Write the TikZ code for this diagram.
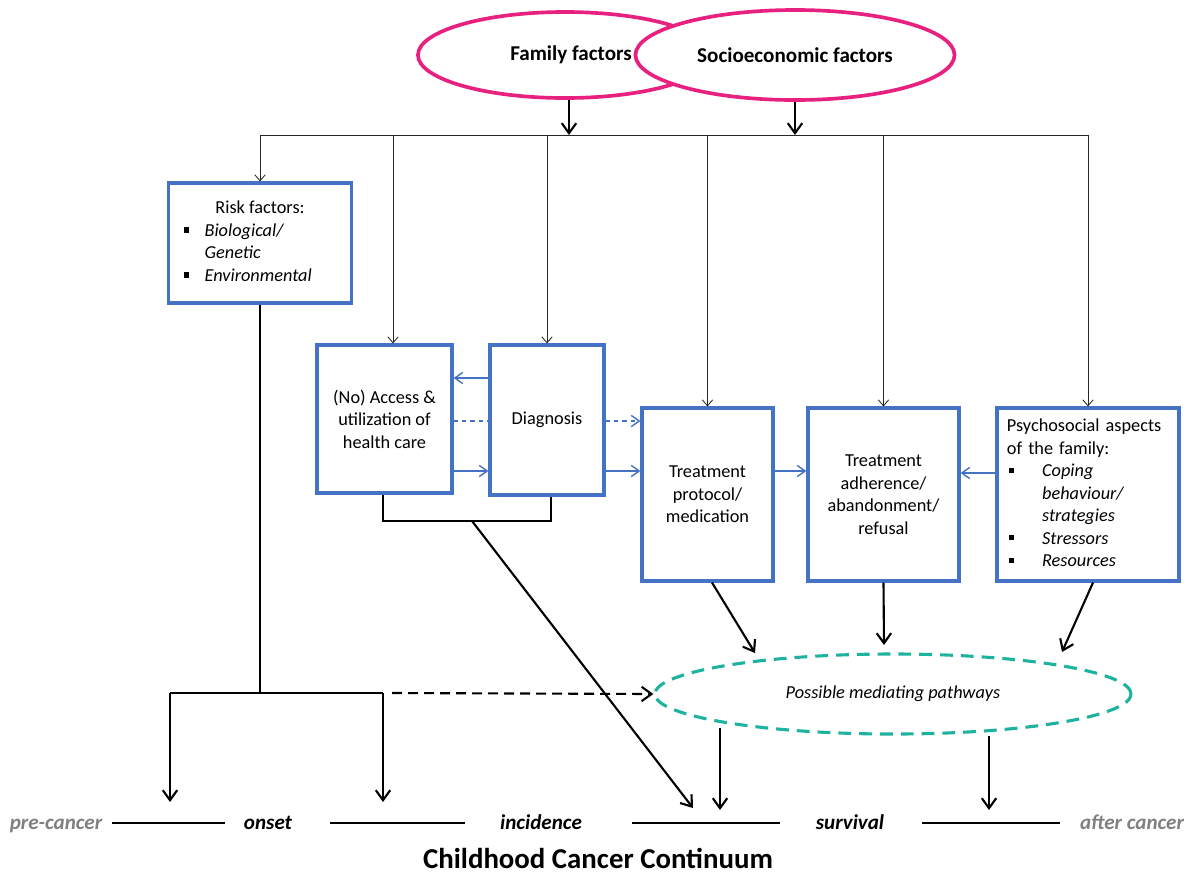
\documentclass[tikz,border=0pt]{standalone}
\usepackage{fontspec}
\setmainfont{Carlito}
\usetikzlibrary{arrows.meta, positioning, shapes.geometric, calc}
\definecolor{cblue}{HTML}{4472C4}
\definecolor{cpink}{HTML}{E8207F}
\definecolor{cteal}{HTML}{1DB39E}
\definecolor{cgrey}{HTML}{808080}
\newcommand{\sqb}{\rule[0.2em]{0.28em}{0.28em}}
\tikzset{
  every picture/.style={font=\fontsize{13}{16}\selectfont},
  box/.style={draw=cblue, line width=2.2pt, fill=white, align=center, inner sep=3pt},
  factor/.style={ellipse, draw=cpink, line width=2.6pt, fill=white, font=\fontsize{15}{18}\selectfont\bfseries},
  feed/.style={-{Straight Barb[length=1.5mm, width=2.6mm]}, draw=black!85, line width=0.6pt},
  link/.style={-{Straight Barb[length=2mm, width=2.8mm]}, draw=cblue, line width=1pt},
  bigarrow/.style={-{Straight Barb[length=2.5mm, width=3.6mm]}, line width=1.5pt},
  stage/.style={anchor=base, font=\fontsize{15}{18}\selectfont\bfseries\itshape},
  stageline/.style={line width=1.6pt},
}

\begin{document}
\begin{tikzpicture}[x=0.025cm, y=-0.025cm]
  \useasboundingbox (0,0) rectangle (1196,877);
  % top factors
  \node[factor, minimum width=7.35cm, minimum height=2.15cm] (family) at (565,55) {\hspace*{0.3cm}Family factors};
  \node[factor, minimum width=7.975cm, minimum height=2.25cm] (socio) at (795,55) {Socioeconomic factors};
  \coordinate (busL) at (260,135);
  \coordinate (busR) at (1088,135);
  \draw[bigarrow] (family.south -| 569,0) -- (busL -| 569,0);
  \draw[bigarrow] (socio.south) -- (socio.south |- busL);
  \draw[line width=0.6pt, black!85] (busL) -- (busR);

  % boxes
  \node[box, minimum width=4.575cm, minimum height=3cm] (risk) at (260,243)
    {\begin{tabular}{@{}l@{\hspace{0.38cm}}l@{\hspace{0.6cm}}}
      \multicolumn{2}{@{}c@{}}{Risk factors:}\\
      \sqb & \textit{Biological/}\\
           & \textit{Genetic}\\
      \sqb & \textit{Environmental}
    \end{tabular}};
  \node[box, minimum width=3.375cm, minimum height=3.7cm] (access) at (384.5,419)
    {(No) Access \&\\utilization of\\health care};
  \node[box, minimum width=2.85cm, minimum height=3.75cm] (diag) at (547,420) {Diagnosis};
  \node[box, minimum width=3.275cm, minimum height=4.325cm] (treat) at (707.5,494.5)
    {Treatment\\protocol/\\medication};
  \node[box, minimum width=3.775cm, minimum height=4.325cm] (adh) at (883.5,494.5)
    {Treatment\\adherence/\\abandonment/\\refusal};
  \node[box, minimum width=4.55cm, minimum height=4.325cm, text width=4.05cm, align=left] (psy) at (1088,494.5)
    {\begin{tabular}{@{}l@{\hspace{0.7cm}}l@{}}
      \multicolumn{2}{@{}l}{Psychosocial aspects}\\
      \multicolumn{2}{@{}l}{of the family:}\\
      \hspace*{0.05cm}\sqb & \textit{Coping}\\
           & \textit{behaviour/}\\
           & \textit{strategies}\\
      \hspace*{0.05cm}\sqb & \textit{Stressors}\\
      \hspace*{0.05cm}\sqb & \textit{Resources}
    \end{tabular}};

  % drops from the bus
  \draw[feed] (busL) -- (risk.north);
  \draw[feed] (busL -| 393,0) -- (access.north -| 393,0);
  \draw[feed] (busL -| diag.north) -- (diag.north);
  \draw[feed] (busL -| treat.north) -- (treat.north);
  \draw[feed] (busL -| adh.north) -- (adh.north);
  \draw[feed] (busR) -- (psy.north);

  % links between boxes
  \draw[link] (diag.west |- 0,378) -- (access.east |- 0,378);
  \draw[cblue, line width=1pt, dashed] (access.east |- 0,421) -- (diag.west |- 0,421);
  \draw[link] (access.east |- 0,471) -- (diag.west |- 0,471);
  \draw[link, dashed] (diag.east |- 0,421) -- (treat.west |- 0,421);
  \draw[link] (diag.east |- 0,471) -- (treat.west |- 0,471);
  \draw[link] (treat.east |- 0,471) -- (adh.west |- 0,471);
  \draw[link] (psy.west |- 0,473) -- (adh.east |- 0,473);

  % mediating pathways
  \node[ellipse, draw=cteal, line width=2.2pt, dash pattern=on 0.32cm off 0.2cm,
    minimum width=11.9cm, minimum height=2cm, font=\fontsize{13}{16}\selectfont\itshape] (med) at (893,694)
    {Possible mediating pathways};
  \coordinate (medA) at (755,653);
  \coordinate (medB) at (884,645);
  \coordinate (medC) at (1062,652);
  \draw[bigarrow] (treat.south -| 712,0) -- (medA);
  \draw[bigarrow] (adh.south) -- (medB);
  \draw[bigarrow] (psy.south -| 1093,0) -- (medC);

  % risk split and bracket
  \coordinate (split) at (260,693);
  \coordinate (preEnd) at (170,802);
  \coordinate (onsetEnd) at (383,802);
  \draw[line width=1.2pt] (risk.south) -- (split);
  \draw[line width=1.2pt] (preEnd |- split) -- (onsetEnd |- split);
  \draw[bigarrow] (preEnd |- split) -- (preEnd);
  \draw[bigarrow] (onsetEnd |- split) -- (onsetEnd);
  \draw[bigarrow, dash pattern=on 0.25cm off 0.15cm] (392,693) -- (med.west);
  \coordinate (brk) at (472,521);
  \coordinate (incEnd) at (693,808);
  \draw[line width=0.8pt] (access.south -| 383,0) |- (brk) -| (diag.south -| 551,0);
  \draw[bigarrow] (brk) -- (incEnd);
  \coordinate (survA) at (720,728);
  \coordinate (survB) at (989,736);
  \draw[bigarrow] (survA) -- (720,810);
  \draw[bigarrow] (survB) -- (989,810);

  % continuum
  \node[stage, text=cgrey] (pre) at (56,829) {pre-cancer};
  \node[stage] (onset) at (268,829) {onset};
  \node[stage] (inc) at (541,829) {incidence};
  \node[stage] (surv) at (850,829) {survival};
  \node[stage, text=cgrey] (after) at (1132,829) {after cancer};
  \draw[stageline] (112,823) -- (225,823);
  \draw[stageline] (330,823) -- (465,823);
  \draw[stageline] (632,823) -- (780,823);
  \draw[stageline] (922,823) -- (1060,823);
  \node[font=\fontsize{20.5}{24}\selectfont\bfseries] (title) at (598,858) {Childhood Cancer Continuum};
\end{tikzpicture}
\end{document}
